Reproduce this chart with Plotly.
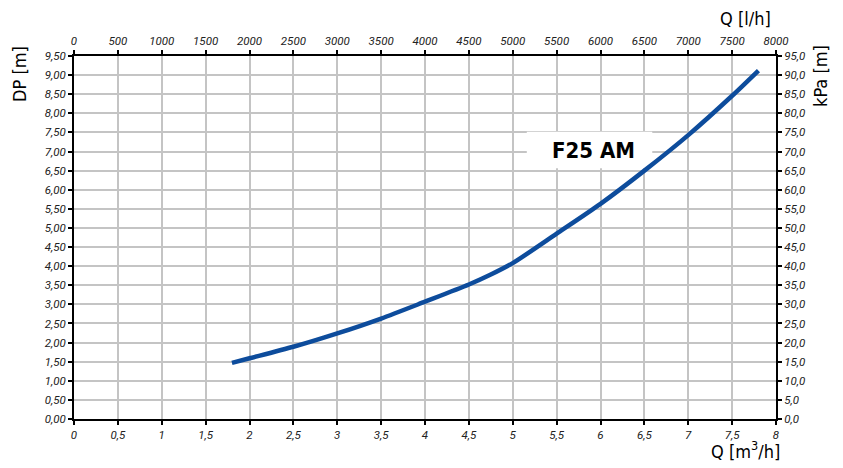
import plotly.graph_objects as go

# Data
q_m3h = [1.8, 2.0, 2.5, 3.0, 3.5, 4.0, 4.5, 4.75, 5.0, 5.5, 6.0, 6.5, 7.0, 7.5, 7.8]
dp_m = [1.47, 1.59, 1.89, 2.24, 2.63, 3.07, 3.52, 3.78, 4.08, 4.85, 5.63, 6.50, 7.43, 8.46, 9.12]
series_name = "F25 AM"

TICKFONT_FAMILY = "Roboto, sans-serif"
TITLE_FAMILY = "DejaVu Sans Condensed, Roboto, sans-serif"
tickfont = dict(family=TICKFONT_FAMILY, size=11.5, color="#222", style="italic")
GRID = "#c4c4c4"

# page body has an 8px margin: shift margins accordingly
L, R, T, B = 66, 75, 48, 57
OFF = 8

fig = go.Figure()
fig.add_trace(go.Scatter(x=q_m3h, y=dp_m, mode="lines",
                         line=dict(color="#0d4c9c", width=4.5, shape="spline", smoothing=0.7),
                         name=series_name, showlegend=False, xaxis="x", yaxis="y"))
fig.add_trace(go.Scatter(x=[0, 8000], y=[0, 0], mode="markers", marker=dict(opacity=0),
                         xaxis="x2", yaxis="y", showlegend=False, hoverinfo="skip"))
fig.add_trace(go.Scatter(x=[0, 8], y=[0, 0], mode="markers", marker=dict(opacity=0),
                         xaxis="x", yaxis="y2", showlegend=False, hoverinfo="skip"))

axis_common = dict(showline=True, linecolor="black", linewidth=2, ticks="outside",
                   ticklen=4, tickwidth=1.5, tickcolor="black", tickfont=tickfont, zeroline=False)

fig.update_layout(
    width=843, height=468,
    margin=dict(l=L, r=R, t=T, b=B),
    paper_bgcolor="white", plot_bgcolor="white",
    separators=",.",
    xaxis=dict(range=[0, 8], dtick=0.5, tick0=0, showgrid=True, gridcolor=GRID, gridwidth=1.5,
               **axis_common),
    xaxis2=dict(range=[0, 8000], dtick=500, tick0=0, overlaying="x", side="top", showgrid=False,
                anchor="y", **axis_common),
    yaxis=dict(range=[0, 9.5], dtick=0.5, tick0=0, tickformat=".2f", showgrid=True,
               gridcolor=GRID, gridwidth=1.5, **axis_common),
    yaxis2=dict(range=[0, 95], dtick=5, tick0=0, tickformat=".1f", overlaying="y", side="right",
                showgrid=False, anchor="x", **axis_common),
)

# label box
fig.add_shape(type="rect", xref="x", yref="y", x0=5.16, x1=6.59, y0=6.56, y1=7.52,
              fillcolor="white", line=dict(width=0), layer="between")
fig.add_annotation(x=5.92, y=7.04, xref="x", yref="y", text="<b>F25 AM</b>", showarrow=False,
                   font=dict(family=TITLE_FAMILY, size=22, color="black"))

pw, ph = 843 - L - R, 468 - T - B


def px(xp, yp):
    return (xp - OFF - L) / pw, 1 - (yp - OFF - T) / ph


title_font = dict(family=TITLE_FAMILY, size=18, color="black")
for text, xp, yp, ang in [("DP [m]", 19, 74, -90), ("kPa [m]", 820, 76, -90),
                          ("Q [l/h]", 745, 19, 0), ("Q [m<sup>3</sup>/h]", 745, 450, 0)]:
    xx, yy = px(xp, yp)
    fig.add_annotation(x=xx, y=yy, xref="paper", yref="paper", text=text, showarrow=False,
                       textangle=ang, xanchor="center", yanchor="middle", font=title_font)

fig.write_html("out.html")
